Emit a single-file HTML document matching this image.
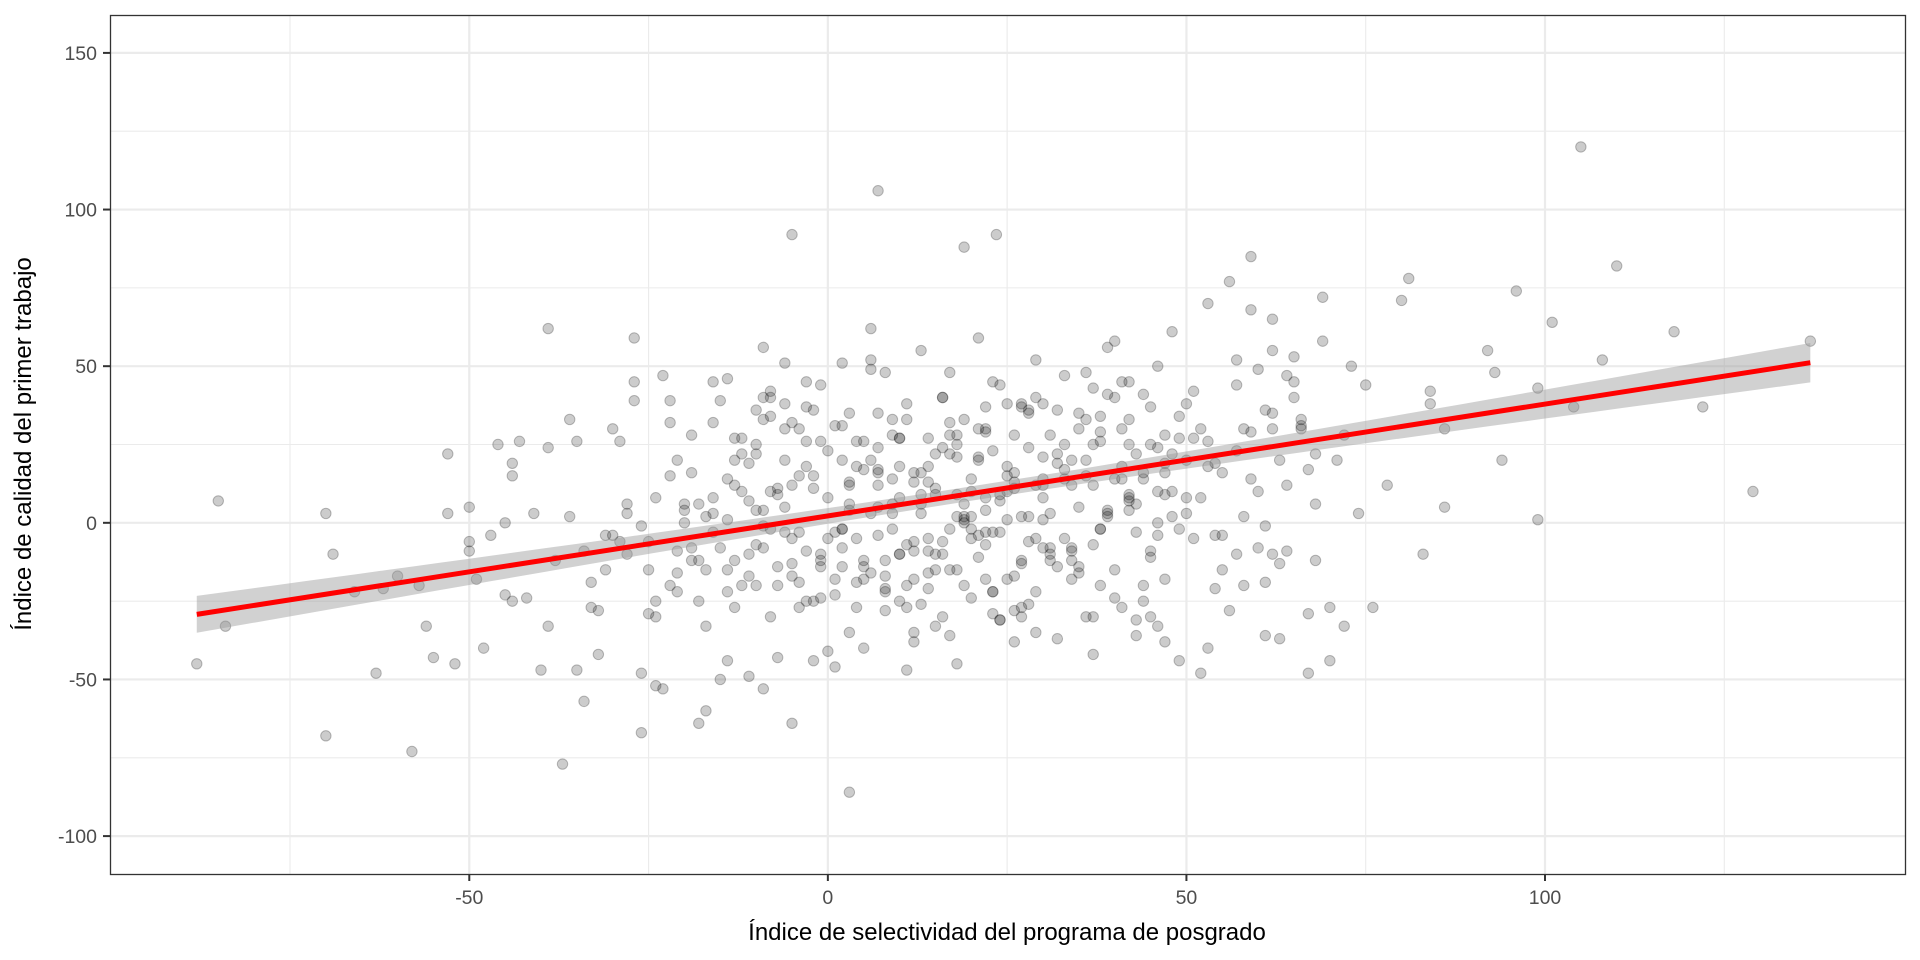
<!DOCTYPE html>
<html><head><meta charset="utf-8"><style>
html,body{margin:0;padding:0;background:#fff;}
svg{display:block;font-family:"Liberation Sans",sans-serif;}
</style></head><body>
<svg id="chart" width="1920" height="960" viewBox="0 0 1920 960" xmlns="http://www.w3.org/2000/svg">
<rect x="0" y="0" width="1920" height="960" fill="#fff"/>
<g id="grid"></g>
<g id="points"></g>
<g id="fit"></g>
<rect x="110.5" y="15.5" width="1795" height="859" fill="none" stroke="#333" stroke-width="1.3"/>
<g id="axes"></g>
<text x="1007" y="940" font-size="24" text-anchor="middle" fill="#000">Índice de selectividad del programa de posgrado</text>
<text transform="translate(31,444) rotate(-90)" font-size="24" text-anchor="middle" fill="#000">Índice de calidad del primer trabajo</text>
</svg>
<script>
const xTicks = [-50, 0, 50, 100];
const yTicks = [-100, -50, 0, 50, 100, 150];
const xMinor = [-75, -25, 25, 75, 125];
const yMinor = [-75, -25, 25, 75, 125];
const fitX = [-88, 137];
const fitIntercept = 2.2;
const fitSlope = 0.357;
const seCenter = 20;
const seBase = 2.3;
const seK = 0.00251;
const ptsX = [105,7,-5,23.5,19,110,96,118,137,-39,-85,-84,-88,-70,-58,-37,3,-70,-69,-63,-56,-55,-52,-53,-53,-50,-50,-50,-47,-46,-45,-44,-48,-43,-44,-44,-45,-41,-39,-40,-39,-36,-36,-35,-34,-33,-32,-32,-31,-30,-29,-28,-27,-27,-26,-27,-26,-25,-24,-24,-23,-23,-22,-22,-21,-20,-19,-18,-17,-17,-16,-16,-16,-15,-14,-14,-14,-13,-13,-12,-11,-11,-10,-10,-9,-9,-8,-8,-8,-8,-7,-6,-5,-5,-5,-4,-4,-3,-3,-3,-2,-1,-1,0,0,
-62,-66,-60,-57,-49,-42,-38,-34,-31,-29,-28,-25,-21,-19,-18,-15,-12,-11,-9,-7,-6,-4,-2,
1,1,2,2,3,3,4,4,5,5,6,6,7,7,8,8,9,9,10,10,11,11,12,12,13,13,14,14,15,15,16,16,17,17,18,18,19,19,20,20,21,21,22,22,23,23,24,24,25,25,26,26,27,27,28,28,29,29,30,30,
1,2,3,4,5,6,7,8,9,10,11,12,13,14,15,16,17,18,19,20,21,22,23,24,25,26,27,28,29,30,
0,2,4,6,8,10,12,14,16,18,20,22,24,26,28,30,1,3,5,7,9,11,13,15,17,19,21,23,25,27,29,
31,31,32,32,33,33,34,34,35,35,36,36,37,37,38,38,39,39,40,40,41,41,42,42,43,43,44,44,45,45,46,46,47,47,48,48,49,49,50,50,
31,33,35,37,39,41,43,45,47,49,32,34,36,38,40,42,44,46,48,50,
51,52,53,54,55,56,57,58,59,60,61,62,63,64,65,66,67,68,69,70,51,53,55,57,59,61,63,65,67,69,52,54,56,58,60,62,64,66,68,70,
53,59,61,62,60,64,66,68,72,73,74,75,71,76,78,80,81,83,84,84,86,86,92,93,94,99,99,101,104,108,122,129,
-20,-18,-15,-13,-10,-8,-6,-4,-2,-19,-17,-14,-11,-9,-7,-3,-1,-16,-12,-5,
-25,-22,-20,-18,-14,-10,-7,-3,-24,-21,-17,-13,-9,-6,-1,
8,12,16,20,24,28,10,14,18,22,26,30,34,38,42,46,36,40,44,48,
-12,-10,-8,-6,-4,-2,0,2,4,6,8,10,12,14,16,18,20,22,24,26,28,30,32,34,36,38,40,42,44,46,
-11,-9,-7,-5,-3,-1,1,3,5,7,9,11,13,15,17,19,21,23,25,27,29,31,33,35,37,39,41,43,45,47,
-14,-10,-6,-2,2,6,10,14,18,22,26,30,34,38,42,46,50,54,58,62,
-13,-9,-5,-1,3,7,11,15,19,23,27,31,35,39,43,47,51,55,59,63,
5,9,13,17,21,25,29,33,37,41,45,49,53,57,61,65,
-30,-26,-22,-33,-28,-35,-19,-16,-24,-21,
2,7,12,17,22,27,32,37,42,47,52,57,62,67,72];
const ptsY = [120,106,92,92,88,82,74,61,58,62,7,-33,-45,-68,-73,-77,-86,3,-10,-48,-33,-43,-45,22,3,5,-6,-9,-4,25,-23,-25,-40,26,19,15,0,3,-33,-47,24,2,33,-47,-57,-27,-28,-42,-4,-4,26,-10,45,59,-67,39,-48,-29,-52,8,-53,47,-20,39,-16,0,28,-64,-60,-33,32,45,-3,-50,-44,-22,14,20,-27,22,-10,-49,22,-20,56,-53,-30,-2,40,10,-43,51,-64,32,-5,-19,15,37,45,-9,-44,-12,-24,23,-5,
-21,-22,-17,-20,-18,-24,-12,-9,-15,-6,6,-15,-9,16,-25,-8,10,-17,4,-14,20,-27,-25,
-18,31,-8,51,-35,12,-27,26,17,-40,-16,20,5,35,-12,48,-2,28,-25,8,-47,38,16,-9,3,55,-21,27,11,-33,40,-6,22,-15,9,-45,33,0,-24,14,59,-11,37,-3,23,-29,7,44,-18,18,-38,28,2,-12,36,-26,12,52,-8,21,-46,31,4,-19,26,62,
-4,-28,14,-10,33,-38,6,18,-15,40,-2,25,-20,10,30,-7,45,-31,1,16,-13,35,-22,8,-41,20,-5,49,-17,27,
13,-9,24,-15,2,29,-31,11,-6,38,-23,6,-14,17,3,-20,-26,9,-36,1,21,-3,15,-27,40,3,-10,19,-37,25,-5,
20,-12,35,5,-30,48,12,-7,26,-20,41,2,58,-15,30,-27,8,45,-3,22,-25,14,37,-11,50,0,28,-18,61,10,-44,34,3,20,-8,47,-16,25,56,14,
6,-9,19,27,-14,12,33,-2,40,9,-20,24,2,38,-5,30,18,-4,16,-28,
23,2,85,-8,36,65,-37,12,45,31,17,6,72,-27,27,70,-15,52,68,-36,-13,40,-29,58,8,-21,77,30,49,-10,47,33,22,-44,26,14,-1,35,10,-9,
30,-12,28,50,3,44,20,-27,12,71,78,-10,42,38,5,30,55,48,20,43,1,64,37,52,37,10,4,6,39,27,36,42,
5,-3,11,-8,2,-15,7,-1,9,18,-10,3,-20,12,-6,15,6,-12,1,4,
-20,-25,-30,-22,-15,-12,-8,-3,-14,-22,-18,-10,-5,-3,2,
-10,-5,2,8,13,14,-18,-2,4,10,20,14,16,22,27,25,34,38,30,36,
8,-14,18,3,-21,27,-6,13,-30,21,-2,30,9,-17,24,1,36,-9,15,29,-24,7,41,-4,19,33,11,-13,26,44,
-3,13,-18,24,6,-27,16,-10,32,2,20,-22,10,37,-5,28,14,-14,43,4,18,-31,25,9,46,-7,30,15,-2,52,
18,-16,28,4,-28,12,-8,34,25,-33,8,19,-20,30,12,40,-17,26,35,16,
-7,22,6,-22,38,-12,30,3,-36,16,42,-4,29,20,-12,33,9,48,-4,38,
-35,17,-42,45,-30,-2,-40,44,-19,53,30,-1,32,-19,3,26,
-12,8,-25,20,-2,12,-35,28,-18,-30,
22,-30,33,-38,-48,-10,55,-48,-33,-22,-12,2,-26,45,48];

const X0=-100.1, X1=150.2, PX0=110, PX1=1905;
const Y0=-112.1, Y1=162.1, PY0=874, PY1=15;
const sx = v => PX0 + (v - X0) / (X1 - X0) * (PX1 - PX0);
const sy = v => PY0 - (v - Y0) / (Y1 - Y0) * (PY0 - PY1);
const NS = "http://www.w3.org/2000/svg";
function mk(tag, attrs, parent) {
  const e = document.createElementNS(NS, tag);
  for (const k in attrs) e.setAttribute(k, attrs[k]);
  parent.appendChild(e);
  return e;
}
const grid = document.getElementById('grid');
const axes = document.getElementById('axes');
xMinor.forEach(v => {
  const l = mk('line', {x1: sx(v), x2: sx(v), y1: PY1, y2: PY0, stroke: '#ebebeb', 'stroke-width': 1.1}, grid);
  
  
});
yMinor.forEach(v => {
  const l = mk('line', {x1: PX0, x2: PX1, y1: sy(v), y2: sy(v), stroke: '#ebebeb', 'stroke-width': 1.1}, grid);
  
  
});
xTicks.forEach(v => {
  const l = mk('line', {x1: sx(v), x2: sx(v), y1: PY1, y2: PY0, stroke: '#ebebeb', 'stroke-width': 2.2}, grid);
  
  
  const t = mk('line', {x1: sx(v), x2: sx(v), y1: PY0, y2: PY0 + 7, stroke: '#333', 'stroke-width': 2}, axes);
  
  
  const tx = mk('text', {x: sx(v), y: 904, 'font-size': 19.5, 'text-anchor': 'middle', fill: '#4d4d4d'}, axes);
  tx.textContent = v;
  
  
});
yTicks.forEach(v => {
  const l = mk('line', {x1: PX0, x2: PX1, y1: sy(v), y2: sy(v), stroke: '#ebebeb', 'stroke-width': 2.2}, grid);
  
  
  const t = mk('line', {x1: PX0 - 7, x2: PX0, y1: sy(v), y2: sy(v), stroke: '#333', 'stroke-width': 2}, axes);
  
  
  const tx = mk('text', {x: 97, y: sy(v) + 7, 'font-size': 19.5, 'text-anchor': 'end', fill: '#4d4d4d'}, axes);
  tx.textContent = v;
  
  
});
const pg = document.getElementById('points');
for (let i = 0; i < Math.min(ptsX.length, ptsY.length); i++) {
  const c = mk('circle', {cx: sx(ptsX[i]), cy: sy(ptsY[i]), r: 5.2, fill: '#000', 'fill-opacity': 0.2, stroke: '#000', 'stroke-opacity': 0.25, 'stroke-width': 1}, pg);
  
  
}
const fit = document.getElementById('fit');
const up = [], lo = [];
const N = 60;
for (let i = 0; i <= N; i++) {
  const x = fitX[0] + (fitX[1] - fitX[0]) * i / N;
  const y = fitIntercept + fitSlope * x;
  const hw = Math.sqrt(seBase * seBase + seK * (x - seCenter) * (x - seCenter));
  up.push(sx(x) + ',' + sy(y + hw));
  lo.unshift(sx(x) + ',' + sy(y - hw));
}
const rib = mk('polygon', {points: up.concat(lo).join(' '), fill: '#999', 'fill-opacity': 0.45}, fit);


const ln = mk('line', {x1: sx(fitX[0]), y1: sy(fitIntercept + fitSlope * fitX[0]), x2: sx(fitX[1]), y2: sy(fitIntercept + fitSlope * fitX[1]), stroke: '#ff0000', 'stroke-width': 5}, fit);


</script>
</body></html>
